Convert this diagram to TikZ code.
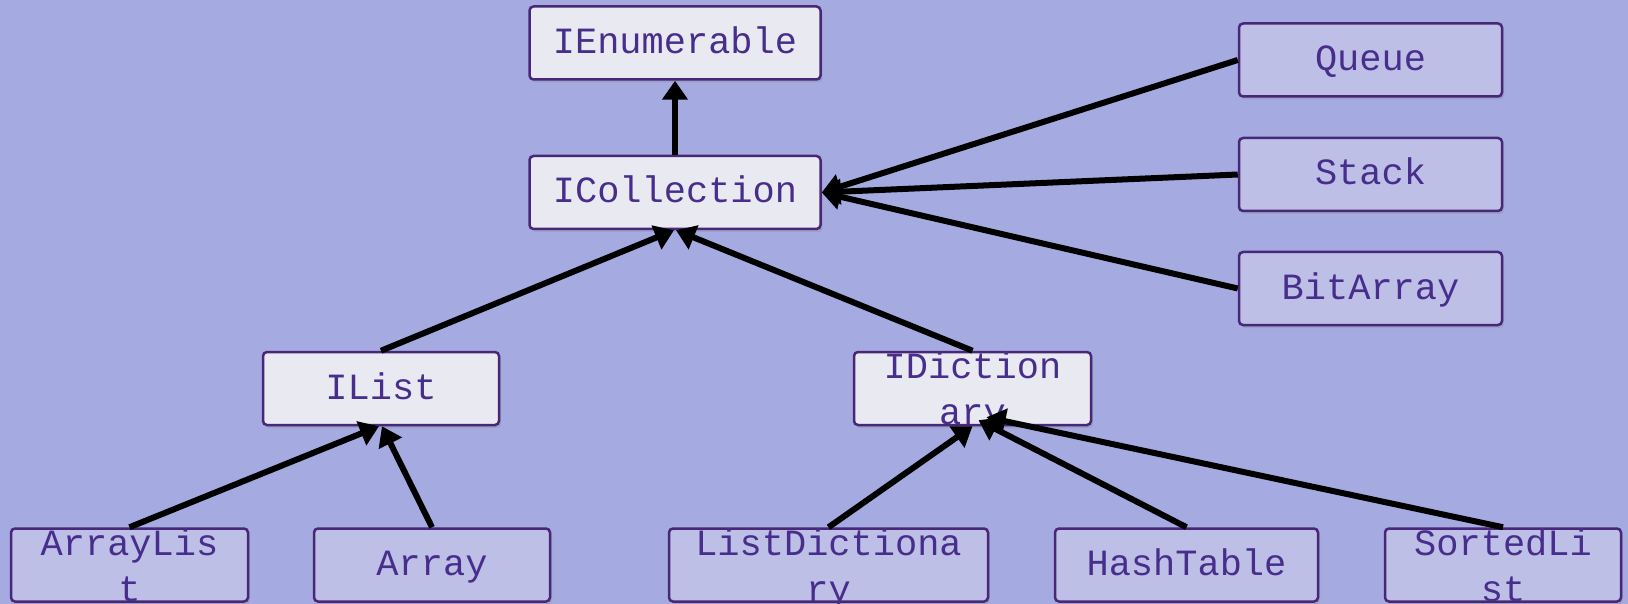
\documentclass[tikz,border=0pt]{standalone}
\usepackage{fontspec}
\setmonofont{Liberation Mono}
\usepackage{tikz}
\usetikzlibrary{arrows.meta,shadows}
\definecolor{bgblue}{RGB}{165,171,224}
\definecolor{boxline}{RGB}{72,38,120}
\definecolor{boxtext}{RGB}{72,46,140}
\definecolor{ifill}{RGB}{233,233,241}
\definecolor{cfill}{RGB}{189,191,230}

\begin{document}
\begin{tikzpicture}[x=1pt, y=-1pt,
    box/.style={draw=boxline, line width=2.5pt, rounded corners=4pt,
      minimum height=73pt, inner sep=0pt, text=boxtext,
      font=\ttfamily\fontsize{37}{46}\selectfont,
      text height=21pt, text depth=0pt,
      drop shadow={shadow xshift=2pt, shadow yshift=-3pt, opacity=0.25}},
    iface/.style={box, fill=ifill},
    cls/.style={box, fill=cfill},
    wrap/.style={align=center, text height=72pt, text depth=-8pt},
    arr/.style={-{Triangle[length=19pt,width=25pt]}, line width=6pt}]
    \fill[bgblue] (0,0) rectangle (1628,604);
    \useasboundingbox (0,0) rectangle (1628,604);

    \node[iface, minimum width=291pt] (IE) at (675,43) {IEnumerable};
    \node[iface, minimum width=291pt] (IC) at (675,192.5) {ICollection};
    \node[cls, minimum width=263pt] (Q) at (1370.5,60) {Queue};
    \node[cls, minimum width=263pt] (S) at (1370.5,174.5) {Stack};
    \node[cls, minimum width=263pt] (B) at (1370.5,288.5) {BitArray};
    \node[iface, minimum width=236pt] (IL) at (381,388.5) {IList};
    \node[iface, wrap, minimum width=237pt] (ID) at (972.5,388.5) {IDiction\\ary};
    \node[cls, wrap, minimum width=237pt] (AL) at (129.5,565) {ArrayLis\\t};
    \node[cls, minimum width=236pt] (AR) at (432,565) {Array};
    \node[cls, wrap, minimum width=319pt] (LD) at (828.5,565) {ListDictiona\\ry};
    \node[cls, minimum width=263pt] (HT) at (1186.5,565) {HashTable};
    \node[cls, wrap, minimum width=236pt] (SL) at (1503,565) {SortedLi\\st};

    \path [arr] (IC) edge (IE);
    \path [arr] (Q.west) edge (IC.east);
    \path [arr] (S.west) edge (IC.east);
    \path [arr] (B.west) edge (IC.east);
    \path [arr] (IL.north) edge ([xshift=-1pt]IC.south);
    \path [arr] (ID.north) edge ([xshift=1pt]IC.south);
    \path [arr] (AL.north) edge ([xshift=-2pt]IL.south);
    \path [arr] (AR.north) edge ([xshift=1pt]IL.south);
    \path [arr] (LD.north) edge (ID.south);
    \path [arr] (HT.north) edge ([xshift=6pt,yshift=6pt]ID.south);
    \path [arr] (SL.north) edge ([xshift=14pt,yshift=9pt]ID.south);
  \end{tikzpicture}
\end{document}
